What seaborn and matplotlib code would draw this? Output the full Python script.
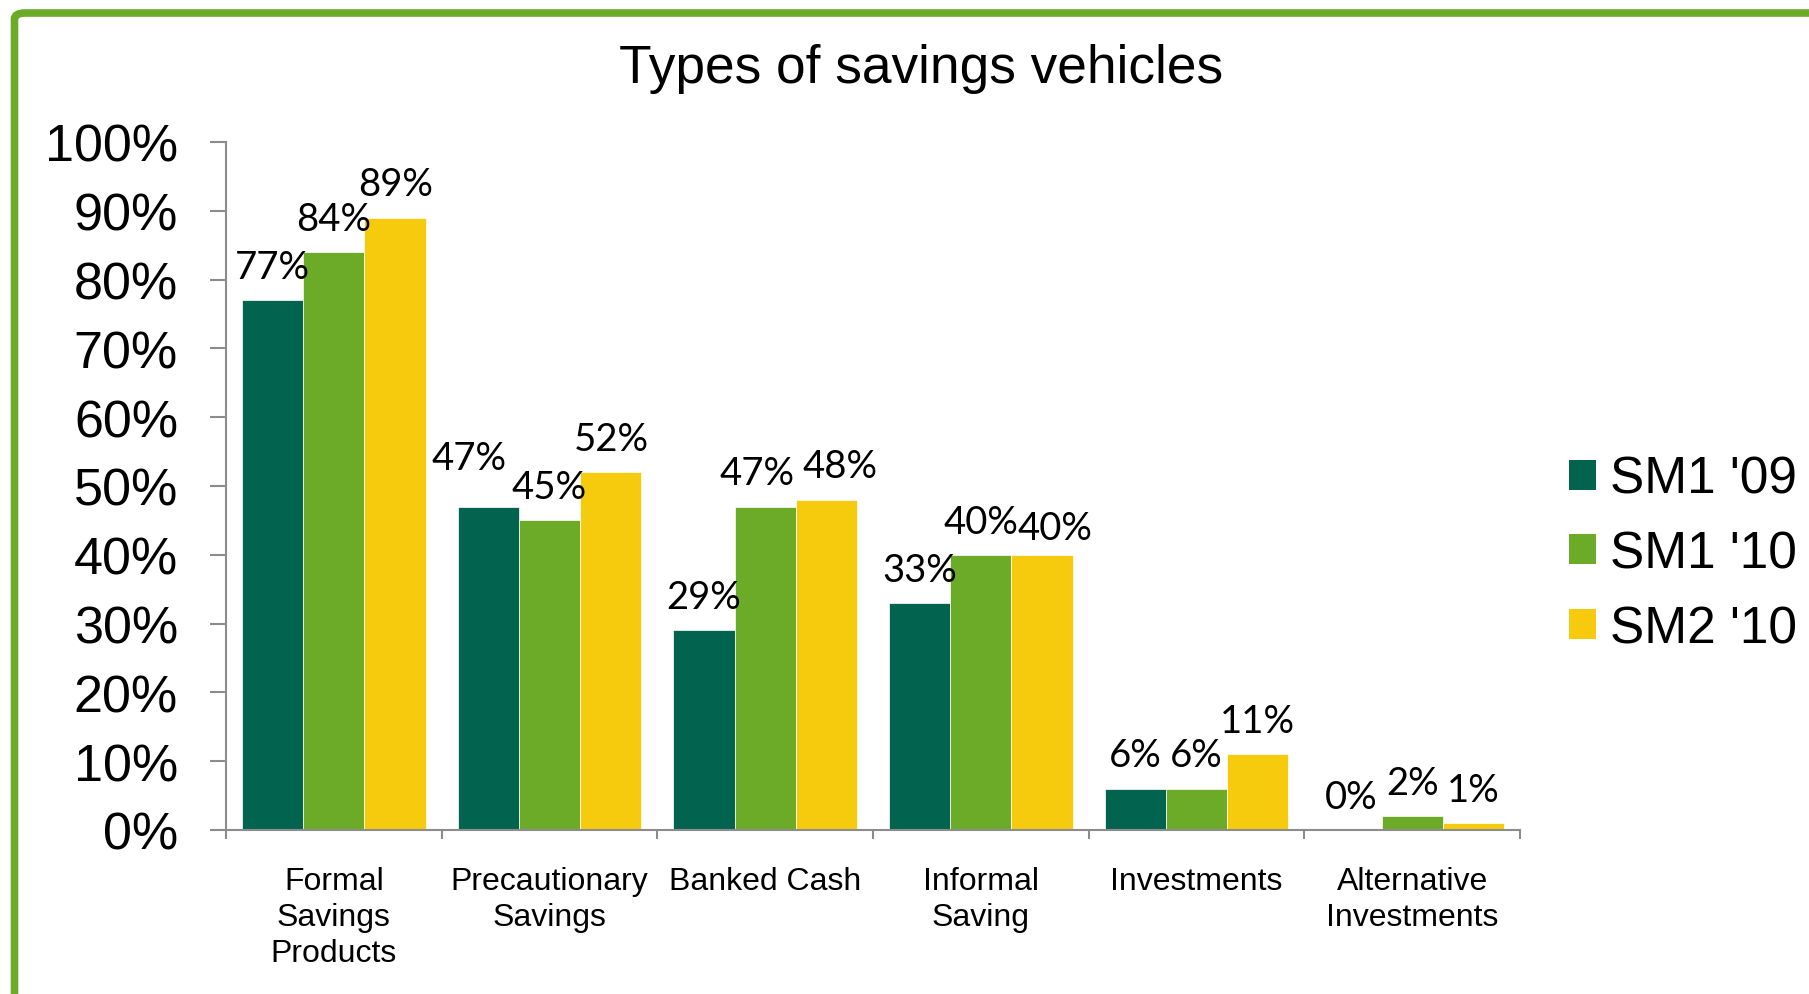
import matplotlib
matplotlib.use("Agg")
import matplotlib.pyplot as plt
from matplotlib.patches import FancyBboxPatch, Patch
import numpy as np
import pandas as pd
import seaborn as sns

# Savings vehicle categories and survey shares per wave
categories = ["Formal\nSavings\nProducts", "Precautionary\nSavings", "Banked Cash",
              "Informal\nSaving", "Investments", "Alternative\nInvestments"]
series_names = ["SM1 '09", "SM1 '10", "SM2 '10"]
sm1_09 = [0.77, 0.47, 0.29, 0.33, 0.06, 0.00]
sm1_10 = [0.84, 0.45, 0.47, 0.40, 0.06, 0.02]
sm2_10 = [0.89, 0.52, 0.48, 0.40, 0.11, 0.01]
colors = ["#02644F", "#6CAB27", "#F6CB0E"]
ytick_labels = ["0%", "10%", "20%", "30%", "40%", "50%", "60%", "70%", "80%", "90%", "100%"]

# Label offsets (points) that keep crowded value labels apart: (series, category) -> (dx, dy)
label_nudge = {(0, 1): (-14, 11), (1, 2): (-6, 0), (2, 2): (10, 0), (2, 3): (9, -5)}

df = pd.DataFrame({
    "category": categories * 3,
    "series": sum([[s] * len(categories) for s in series_names], []),
    "value": sm1_09 + sm1_10 + sm2_10,
})

sns.set_theme(style="white")
plt.rcParams["font.family"] = ["Liberation Sans", "DejaVu Sans"]
plt.rcParams["text.color"] = "black"

W, H = 1809, 995
fig = plt.figure(figsize=(W / 100, H / 100), dpi=100)
fig.patch.set_facecolor("white")

ax = fig.add_axes([226 / W, 1 - 831 / H, (1520 - 226) / W, (831 - 143) / H])
sns.barplot(data=df, x="category", y="value", hue="series", order=categories,
            hue_order=series_names, palette=colors, width=0.853, saturation=1,
            edgecolor="white", linewidth=0.5, ax=ax, legend=False)

ax.set_xlim(-0.5, len(categories) - 0.5)
ax.set_ylim(0, 1.0)
ax.set_yticks(np.linspace(0, 1, 11))
ax.set_yticklabels(ytick_labels)
ax.set_xlabel("")
ax.set_ylabel("")

for side in ["top", "right"]:
    ax.spines[side].set_visible(False)
for side in ["left", "bottom"]:
    ax.spines[side].set_color("#8C8C8C")
    ax.spines[side].set_linewidth(1.5)

ax.tick_params(axis="y", which="major", direction="out", length=11.5, width=1.5,
               color="#8C8C8C", pad=23, labelsize=37.5, labelcolor="black", left=True)
ax.tick_params(axis="x", which="major", length=0, pad=26, labelsize=23,
               labelcolor="black")
ax.set_xticks(np.arange(-0.5, len(categories), 1.0), minor=True)
ax.tick_params(axis="x", which="minor", direction="out", length=6.5, width=1.5,
               color="#8C8C8C", bottom=True)
for lbl in ax.get_xticklabels():
    lbl.set_linespacing(1.25)

# Value labels above each bar
for si, cont in enumerate(ax.containers):
    for ci, (bar, v) in enumerate(zip(cont.patches, cont.datavalues)):
        dx, dy = label_nudge.get((si, ci), (0, 0))
        ax.annotate(f"{v:.0%}", xy=(bar.get_x() + bar.get_width() / 2, v),
                    xytext=(dx, 11 + dy), textcoords="offset points",
                    ha="center", va="bottom", fontsize=27.5, color="black",
                    family=["Lato", "DejaVu Sans"])

# Title
fig.text(921 / W, 1 - 69 / H, "Types of savings vehicles", ha="center", va="center",
         fontsize=38.3, color="black")

# Legend on the right
handles = [Patch(facecolor=c, edgecolor="none") for c in colors]
fig.legend(handles, series_names, loc="center left",
           bbox_to_anchor=(1569 / W, 1 - 555 / H), frameon=False, fontsize=37,
           handlelength=0.52, handleheight=0.52, handletextpad=0.27,
           labelspacing=0.50, borderpad=0, borderaxespad=0, labelcolor="black")

# Green frame around the chart area
frame = FancyBboxPatch((14.5 / W, -0.02), 1.05, 1 - 14 / H + 0.02,
                       boxstyle="round,pad=0,rounding_size=0.006",
                       transform=fig.transFigure, facecolor="none",
                       edgecolor="#6CAB27", linewidth=5.5, zorder=10)
fig.patches.append(frame)

fig.savefig("out.png", dpi=100)
